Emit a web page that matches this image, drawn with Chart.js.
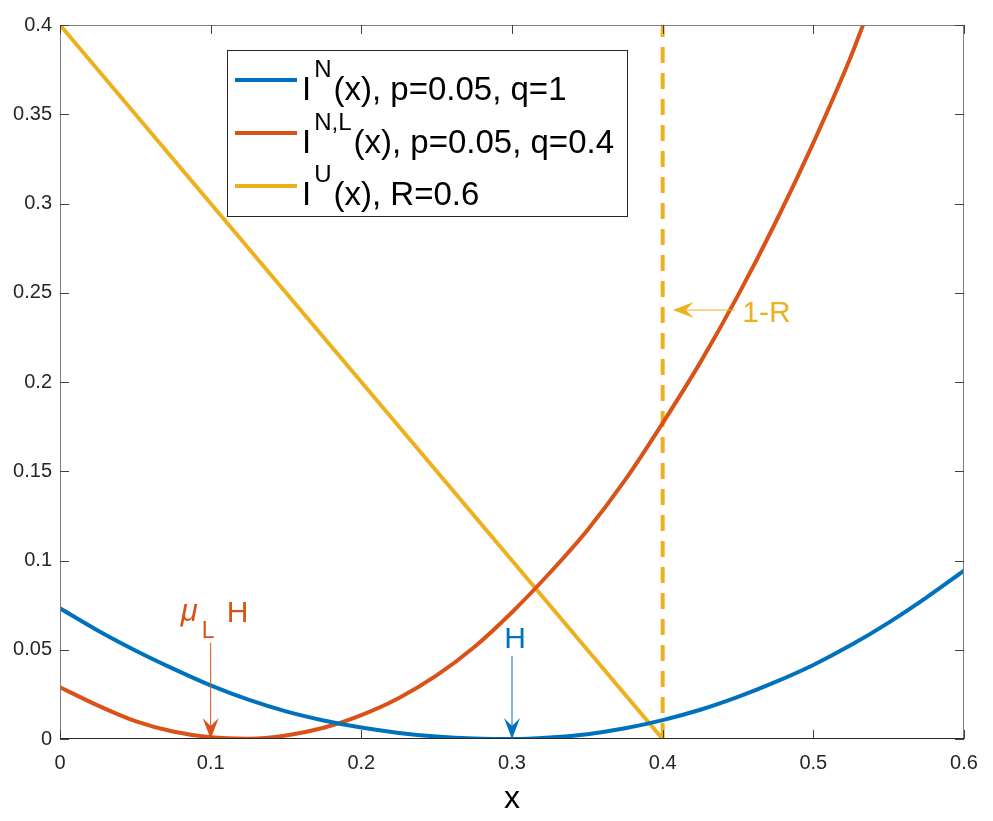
<!DOCTYPE html>
<html>
<head>
<meta charset="utf-8">
<script src="https://cdn.jsdelivr.net/npm/chart.js@4.4.1/dist/chart.umd.min.js"></script>
<style>
  html, body { margin: 0; padding: 0; background: #fff; }
</style>
</head>
<body>
<canvas id="rateChart" width="993" height="821"></canvas>
<script>
const FONT = '"Liberation Sans", Arial, Helvetica, sans-serif';
const BLUE = '#0072BD';
const ORANGE = '#D95319';
const YELLOW = '#EDB120';
const AXIS = '#262626';

// tick values
const xTicks = [0, 0.1, 0.2, 0.3, 0.4, 0.5, 0.6];
const yTicks = [0, 0.05, 0.1, 0.15, 0.2, 0.25, 0.3, 0.35, 0.4];

// I^N(x), p=0.05, q=1
const xN = [0, 0.025, 0.05, 0.075, 0.1, 0.125, 0.15, 0.175, 0.2, 0.225, 0.25, 0.275, 0.3,
            0.325, 0.35, 0.375, 0.4, 0.425, 0.45, 0.475, 0.5, 0.525, 0.55, 0.575, 0.6];
const yN = [0.0732, 0.0608, 0.0496, 0.0394, 0.0300, 0.0220, 0.0155, 0.0104, 0.0064, 0.0034, 0.0014, 0.0003, 0.0000,
            0.0009, 0.0027, 0.0060, 0.0106, 0.0164, 0.0236, 0.0320, 0.0415, 0.0526, 0.0652, 0.0792, 0.0943];

// I^{N,L}(x), p=0.05, q=0.4
const xNL = [0, 0.025, 0.05, 0.075, 0.1, 0.125, 0.15, 0.175, 0.2, 0.225, 0.25, 0.275, 0.3,
             0.325, 0.35, 0.375, 0.4, 0.425, 0.45, 0.475, 0.5, 0.525, 0.533];
const yNL = [0.0290, 0.0188, 0.0100, 0.0042, 0.0010, 0.0002, 0.0020, 0.0063, 0.0134, 0.0230, 0.0356, 0.0515, 0.0710,
             0.0930, 0.1170, 0.1450, 0.1770, 0.2110, 0.2485, 0.2895, 0.3340, 0.3825, 0.4000];

// I^U(x), R=0.6
const xU = [0, 0.4];
const yU = [0.4, 0];

// 1-R marker
const xR = [0.4, 0.4];
const yR = [0, 0.4];

const toPoints = (xs, ys) => xs.map((x, i) => ({ x: x, y: ys[i] }));
const fmt = v => String(+(+v).toFixed(2));

const legendRows = [
  { color: BLUE, sup: 'N', text: '(x), p=0.05, q=1' },
  { color: ORANGE, sup: 'N,L', text: '(x), p=0.05, q=0.4' },
  { color: YELLOW, sup: 'U', text: '(x), R=0.6' }
];

function drawArrow(ctx, x1, y1, x2, y2, color) {
  const len = Math.hypot(x2 - x1, y2 - y1);
  const ux = (x2 - x1) / len, uy = (y2 - y1) / len;
  const nx = -uy, ny = ux;
  const L = 21, W = 8, N = 13;
  ctx.strokeStyle = color;
  ctx.lineWidth = 1;
  ctx.beginPath();
  ctx.moveTo(x1, y1);
  ctx.lineTo(x2 - ux * N, y2 - uy * N);
  ctx.stroke();
  ctx.fillStyle = color;
  ctx.beginPath();
  ctx.moveTo(x2, y2);
  ctx.lineTo(x2 - ux * L + nx * W, y2 - uy * L + ny * W);
  ctx.lineTo(x2 - ux * N, y2 - uy * N);
  ctx.lineTo(x2 - ux * L - nx * W, y2 - uy * L - ny * W);
  ctx.closePath();
  ctx.fill();
}

// box, inward ticks, legend and text arrows (matlab look)
const matlabFrame = {
  id: 'matlabFrame',
  afterDatasetsDraw(chart) {
    const { ctx, chartArea: a, scales: { x, y } } = chart;
    ctx.save();

    // box
    ctx.lineWidth = 1;
    ctx.strokeStyle = '#808080';
    ctx.beginPath();
    ctx.moveTo(a.left + 0.5, a.bottom);
    ctx.lineTo(a.left + 0.5, a.top + 0.5);
    ctx.lineTo(a.right - 0.5, a.top + 0.5);
    ctx.lineTo(a.right - 0.5, a.bottom);
    ctx.stroke();
    ctx.strokeStyle = AXIS;
    ctx.beginPath();
    ctx.moveTo(a.left, a.bottom - 0.5);
    ctx.lineTo(a.right, a.bottom - 0.5);
    ctx.stroke();

    // ticks
    ctx.strokeStyle = '#404040';
    ctx.beginPath();
    xTicks.forEach(v => {
      const px = Math.round(x.getPixelForValue(v)) + 0.5;
      ctx.moveTo(px, a.bottom); ctx.lineTo(px, a.bottom - 9);
      ctx.moveTo(px, a.top); ctx.lineTo(px, a.top + 9);
    });
    yTicks.forEach(v => {
      const py = Math.round(y.getPixelForValue(v)) + 0.5;
      ctx.moveTo(a.left, py); ctx.lineTo(a.left + 9, py);
      ctx.moveTo(a.right, py); ctx.lineTo(a.right - 9, py);
    });
    ctx.stroke();

    // legend
    const bx = a.left + 167, by = a.top + 25, bw = 400, bh = 166;
    ctx.fillStyle = '#fff';
    ctx.fillRect(bx, by, bw, bh);
    ctx.strokeStyle = '#262626';
    ctx.strokeRect(bx + 0.5, by + 0.5, bw, bh);
    legendRows.forEach((row, i) => {
      const ly = by + 30 + i * 53;
      const base = by + 50 + i * 52.5;
      ctx.strokeStyle = row.color;
      ctx.lineWidth = 4;
      ctx.beginPath();
      ctx.moveTo(bx + 8, ly);
      ctx.lineTo(bx + 70, ly);
      ctx.stroke();
      ctx.fillStyle = '#000';
      ctx.textBaseline = 'alphabetic';
      ctx.textAlign = 'left';
      let tx = bx + 75;
      ctx.font = '33px ' + FONT;
      ctx.fillText('I', tx, base);
      tx += ctx.measureText('I').width + 3;
      ctx.font = '24px ' + FONT;
      ctx.fillText(row.sup, tx, base - 23);
      tx += ctx.measureText(row.sup).width + 2;
      ctx.font = '33px ' + FONT;
      ctx.fillText(row.text, tx, base);
    });

    // mu_L H arrow
    const mx = x.getPixelForValue(0.1);
    const mTop = y.getPixelForValue(0.054);
    drawArrow(ctx, mx, mTop, mx, y.getPixelForValue(0), ORANGE);
    ctx.fillStyle = ORANGE;
    ctx.font = 'italic 31px ' + FONT;
    ctx.fillText('\u03bc', mx - 30, mTop - 22);
    ctx.font = '23px ' + FONT;
    ctx.fillText('L', mx - 9, mTop - 5);
    ctx.font = '30px ' + FONT;
    ctx.fillText('H', mx + 16, mTop - 21);

    // H arrow
    const hx = x.getPixelForValue(0.3);
    const hTop = y.getPixelForValue(0.0465);
    drawArrow(ctx, hx, hTop, hx, y.getPixelForValue(0), BLUE);
    ctx.fillStyle = BLUE;
    ctx.textAlign = 'center';
    ctx.fillText('H', hx + 3, hTop - 8);

    // 1-R arrow
    const ry = y.getPixelForValue(0.2403);
    drawArrow(ctx, x.getPixelForValue(0.448), ry, x.getPixelForValue(0.4067), ry, YELLOW);
    ctx.fillStyle = YELLOW;
    ctx.textAlign = 'left';
    ctx.fillText('1-R', x.getPixelForValue(0.4528), ry + 12);

    ctx.restore();
  }
};

new Chart(document.getElementById('rateChart'), {
  type: 'line',
  data: {
    datasets: [
      { data: toPoints(xN, yN), borderColor: BLUE, borderWidth: 4, cubicInterpolationMode: 'monotone' },
      { data: toPoints(xNL, yNL), borderColor: ORANGE, borderWidth: 4, cubicInterpolationMode: 'monotone' },
      { data: toPoints(xU, yU), borderColor: YELLOW, borderWidth: 4 },
      { data: toPoints(xR, yR), borderColor: YELLOW, borderWidth: 4, borderDash: [16, 10] }
    ]
  },
  options: {
    responsive: false,
    animation: false,
    devicePixelRatio: 1,
    layout: { padding: { top: 25, right: 29, left: 0, bottom: 0 } },
    elements: { point: { radius: 0 } },
    plugins: { legend: { display: false }, tooltip: { enabled: false } },
    scales: {
      x: {
        type: 'linear', min: 0, max: 0.6,
        afterBuildTicks: s => { s.ticks = xTicks.map(v => ({ value: v })); },
        afterFit: s => { s.height = 82; },
        grid: { display: false, drawTicks: false },
        border: { display: false },
        ticks: { padding: 12, color: AXIS, maxRotation: 0, autoSkip: false,
                 font: { family: FONT, size: 20 }, callback: fmt },
        title: { display: true, text: 'x', color: '#000',
                 font: { family: FONT, size: 32 }, padding: { top: 0, bottom: 3 } }
      },
      y: {
        type: 'linear', min: 0, max: 0.4,
        afterBuildTicks: s => { s.ticks = yTicks.map(v => ({ value: v })); },
        afterFit: s => { s.width = 60; },
        grid: { display: false, drawTicks: false },
        border: { display: false },
        ticks: { padding: 8, color: AXIS, autoSkip: false,
                 font: { family: FONT, size: 20 }, callback: fmt }
      }
    }
  },
  plugins: [matlabFrame]
});
</script>
</body>
</html>
